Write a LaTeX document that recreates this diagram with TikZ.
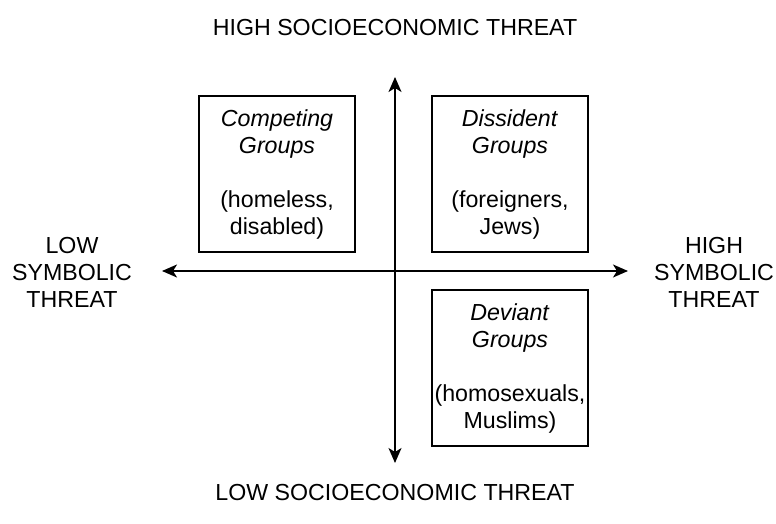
\documentclass[tikz,border=0pt]{standalone}
\usepackage{fontspec}
\setmainfont{Liberation Sans}
\usetikzlibrary{arrows.meta}

\begin{document}
\begin{tikzpicture}[x=1pt,y=-1pt,
    every node/.style={inner sep=0pt,font=\fontsize{23.2}{27}\selectfont,align=center},
    groupbox/.style={draw=black,line width=1.3pt,minimum width=156pt,minimum height=156pt},
    axis/.style={line width=1.6pt,{Stealth[length=15pt,width=13pt,inset=4pt]}-{Stealth[length=15pt,width=13pt,inset=4pt]}}]
    \useasboundingbox (0,0) rectangle (776,524);
    \node (hitop) at (395,28) {HIGH SOCIOECONOMIC THREAT};
    \node (lobot) at (395,493) {LOW SOCIOECONOMIC THREAT};
    \node (lolab) at (72,272) {LOW\\SYMBOLIC\\THREAT};
    \node (hilab) at (714,272) {HIGH\\SYMBOLIC\\THREAT};
    \coordinate (vtop) at (395,77);
    \coordinate (vbot) at (395,463);
    \coordinate (hleft) at (162,271);
    \coordinate (hright) at (628,271);
    \draw [axis] (vtop) -- (vbot);
    \draw [axis] (hleft) -- (hright);
    \node [groupbox] (compete) at (277,174) {\textit{Competing}\\\textit{Groups}\\[27pt](homeless,\\disabled)};
    \node [groupbox] (dissent) at (510,174) {\textit{Dissident}\\\textit{Groups}\\[27pt](foreigners,\\Jews)};
    \node [groupbox] (deviant) at (510,368) {\textit{Deviant}\\\textit{Groups}\\[27pt](homosexuals,\\Muslims)};
\end{tikzpicture}
\end{document}
